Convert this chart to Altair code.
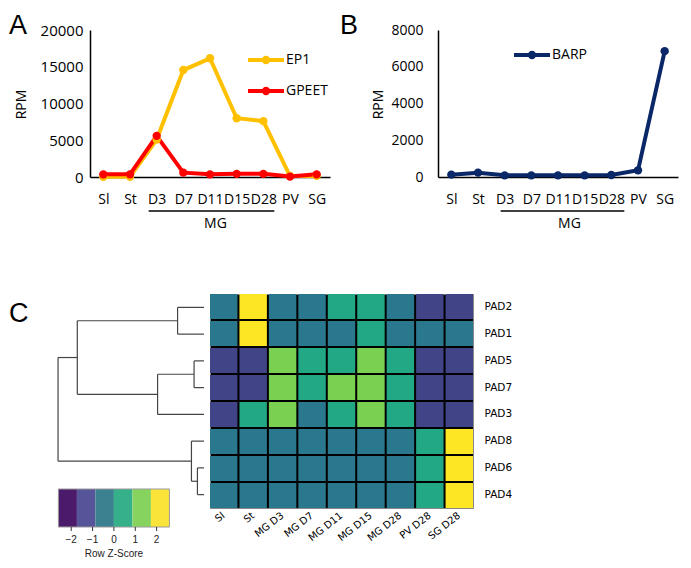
import altair as alt
import pandas as pd

# ---------------- data ----------------
stages = ["Sl", "St", "D3", "D7", "D11", "D15", "D28", "PV", "SG"]
mg_span = ["D3", "D28"]
ep1 = [30, 30, 5100, 14550, 16150, 8000, 7600, 130, 150]
gpeet = [360, 360, 5600, 590, 360, 430, 430, 60, 360]
barp = [127, 236, 90, 90, 90, 90, 110, 363, 6850]
a_ticks = [0, 5000, 10000, 15000, 20000]
b_ticks = [0, 2000, 4000, 6000, 8000]

heat_cols = ["Sl", "St", "MG D3", "MG D7", "MG D11", "MG D15", "MG D28", "PV D28", "SG D28"]
heat_rows = ["PAD2", "PAD1", "PAD5", "PAD7", "PAD3", "PAD8", "PAD6", "PAD4"]
z_pad2 = [-0.4, 2.2, -0.4, -0.4, 0.4, 0.4, -0.4, -1.3, -1.3]
z_pad1 = [-0.4, 2.2, -0.4, -0.4, -0.4, 0.4, -0.4, -0.4, -0.4]
z_pad5 = [-1.3, -1.3, 1.3, 0.4, 0.4, 1.3, 0.4, -1.3, -1.3]
z_pad7 = [-1.3, -1.3, 1.3, 0.4, 1.3, 1.3, 0.4, -1.3, -1.3]
z_pad3 = [-1.3, 0.4, 1.3, -0.4, 0.4, 1.3, 0.4, -1.3, -1.3]
z_pad8 = [-0.4, -0.4, -0.4, -0.4, -0.4, -0.4, -0.4, 0.4, 2.2]
z_pad6 = [-0.4, -0.4, -0.4, -0.4, -0.4, -0.4, -0.4, 0.4, 2.2]
z_pad4 = [-0.4, -0.4, -0.4, -0.4, -0.4, -0.4, -0.4, 0.4, 2.2]
z_rows = [z_pad2, z_pad1, z_pad5, z_pad7, z_pad3, z_pad8, z_pad6, z_pad4]

z_breaks = [-2.6, -1.733, -0.867, 0.0, 0.867, 1.733, 2.6]
z_ticks = [-2, -1, 0, 1, 2]
z_title = "Row Z-Score"
viridis6 = ["#440154", "#414487", "#2A788E", "#22A884", "#7AD151", "#FDE725"]
cbar_colors = ["#4b1a6b", "#57559a", "#3c8190", "#36af8b", "#86d45f", "#fbe43a"]

# dendrogram linkage (merge a + merge b at height h -> node m1..m7)
merge_a = ["PAD2", "PAD5", "m2", "m1", "PAD6", "PAD8", "m4"]
merge_b = ["PAD1", "PAD7", "PAD3", "m3", "PAD4", "m5", "m6"]
merge_h = [1.81, 0.68, 3.18, 8.68, 0.45, 0.86, 10.0]

# ---------------- derived tables ----------------
FONT = "Open Sans"
NOFRAME = alt.ViewBackground(stroke="transparent")
dfA = pd.DataFrame({"stage": stages * 2, "rpm": ep1 + gpeet,
                    "gene": ["EP1"] * len(stages) + ["GPEET"] * len(stages)})
dfB = pd.DataFrame({"stage": stages, "rpm": barp, "gene": ["BARP"] * len(stages)})
df_span = pd.DataFrame({"a": [mg_span[0]], "b": [mg_span[1]]})

heat_records = []
for r, zs in zip(heat_rows, z_rows):
    for c, z in zip(heat_cols, zs):
        heat_records.append({"row": r, "col": c, "z": z})
dfH = pd.DataFrame(heat_records)

pos = {leaf: float(i) for i, leaf in enumerate(heat_rows)}
hgt = {leaf: 0.0 for leaf in heat_rows}
segs = []
for k, (a, b, h) in enumerate(zip(merge_a, merge_b, merge_h)):
    segs.append({"x": h, "x2": h, "y": pos[a], "y2": pos[b]})
    for ch in (a, b):
        segs.append({"x": hgt[ch], "x2": h, "y": pos[ch], "y2": pos[ch]})
    pos[f"m{k+1}"] = (pos[a] + pos[b]) / 2
    hgt[f"m{k+1}"] = h
dfD = pd.DataFrame(segs)

bins = [f"b{i}" for i in range(len(z_breaks) - 1)]
dfCB = pd.DataFrame({"lo": z_breaks[:-1], "hi": z_breaks[1:], "bin": bins})
dfCBframe = pd.DataFrame({"lo": [z_breaks[0]], "hi": [z_breaks[-1]]})
dfCBticks = pd.DataFrame({"z": z_ticks, "lab": [str(v).replace("-", "\u2212") for v in z_ticks]})
dfCBtitle = pd.DataFrame({"z": [0.0], "lab": [z_title]})

SYM = "M-1,0L1,0M-0.12,0A0.12,0.12,0,1,0,0.12,0A0.12,0.12,0,1,0,-0.12,0Z"


def legend(x, y):
    return alt.Legend(orient="none", legendX=x, legendY=y, title=None,
                      symbolType=SYM, symbolSize=1296, symbolStrokeWidth=4,
                      labelFont=FONT, labelFontSize=14, labelColor="black",
                      labelOffset=0, rowPadding=-2, padding=0)


def letter(ch, dx, dy):
    return alt.Chart(pd.DataFrame({"t": [ch]})).mark_text(
        align="left", baseline="top", fontSize=27, font="Liberation Sans", color="black"
    ).encode(text="t:N", x=alt.value(dx), y=alt.value(dy))


def line_panel(df, colors, domain, y_max, y_ticks, leg_xy, title_x, rpm_x,
               label_pad, label_size, rule_off, letter_ch, letter_dx, width):
    xscale = alt.Scale(type="point", padding=0.5, domain=stages)
    xaxis = alt.Axis(title="MG", titleX=title_x, titleY=46, titleBaseline="middle",
                     titleFontSize=14, titleFontWeight="normal", titleFont=FONT,
                     labelAngle=0, labelFontSize=14, labelFont=FONT, labelPadding=15,
                     labelOverlap=False, ticks=False, grid=False,
                     domainColor="black", domainWidth=1.5)
    yaxis = alt.Axis(values=y_ticks, format="d", title="RPM", titleX=rpm_x, titleY=74,
                     titleBaseline="middle", titleAlign="center",
                     titleFontSize=14, titleFontWeight="normal", titleFont=FONT,
                     labelFontSize=label_size, labelFont=FONT, labelPadding=label_pad,
                     ticks=False, grid=False, domainColor="black", domainWidth=1.5)
    cscale = alt.Scale(domain=domain, range=colors)
    x = alt.X("stage:N", scale=xscale, axis=xaxis)
    y = alt.Y("rpm:Q", scale=alt.Scale(domain=[0, y_max], nice=False), axis=yaxis)
    lines = alt.Chart(df).mark_line(strokeWidth=4).encode(
        x=x, y=y, color=alt.Color("gene:N", scale=cscale, legend=legend(*leg_xy)))
    pts = alt.Chart(df).mark_circle(size=70, opacity=1).encode(
        x=x, y=y, color=alt.Color("gene:N", scale=cscale, legend=legend(*leg_xy)))
    rule = alt.Chart(df_span).mark_rule(
        color="black", strokeWidth=1.5, xOffset=rule_off[0], x2Offset=rule_off[1]
    ).encode(x=alt.X("a:N", scale=xscale), x2="b:N", y=alt.value(181))
    return alt.layer(lines, pts, rule, letter(letter_ch, letter_dx, -17)).properties(
        width=width, height=147, view=NOFRAME)


chartA = line_panel(dfA, ["#FFC000", "#FF0000"], ["EP1", "GPEET"], 20000, a_ticks,
                    (156, 10), 125, -69, 7, 15, (-8, 11), "A", -81, 240)
chartB = line_panel(dfB, ["#0a2767"], ["BARP"], 8000, b_ticks,
                    (74, 5), 131, -60, 15, 14, (-4, 13), "B", -98, 240)

# ---------------- panel C ----------------
# The plot area of this view begins a little right of the dendrogram root so that
# it lines up with panel A above; the linear scales simply extend past the left edge.
C_W = 114
dendro = alt.Chart(dfD).mark_rule(color="#444", strokeWidth=1.2).encode(
    x=alt.X("x:Q", scale=alt.Scale(domain=[0, 7.81], reverse=True, nice=False, zero=False),
            axis=None),
    x2="x2:Q",
    y=alt.Y("y:Q", scale=alt.Scale(domain=[-0.5, 8.21], reverse=True, nice=False, zero=False),
            axis=None),
    y2="y2:Q")

cb_scale = alt.Scale(domain=[-1.12, 4.22], nice=False, zero=False)
cbar = alt.Chart(dfCB).mark_rect().encode(
    x=alt.X("lo:Q", scale=cb_scale, axis=None),
    x2="hi:Q",
    y=alt.value(195), y2=alt.value(233),
    color=alt.Color("bin:N", scale=alt.Scale(domain=bins, range=cbar_colors), legend=None))
cframe = alt.Chart(dfCBframe).mark_rect(fillOpacity=0, stroke="#999", strokeWidth=1).encode(
    x=alt.X("lo:Q", scale=cb_scale, axis=None), x2="hi:Q",
    y=alt.value(195), y2=alt.value(233))
cticks = alt.Chart(dfCBticks).mark_rule(color="#333", strokeWidth=1).encode(
    x=alt.X("z:Q", scale=cb_scale, axis=None), y=alt.value(233), y2=alt.value(237))
clabels = alt.Chart(dfCBticks).mark_text(
    font="Liberation Sans", fontSize=10, color="#222", baseline="top"
).encode(x=alt.X("z:Q", scale=cb_scale, axis=None), y=alt.value(241), text="lab:N")
ctitle = alt.Chart(dfCBtitle).mark_text(
    font="Liberation Sans", fontSize=10, color="#222", baseline="middle"
).encode(x=alt.X("z:Q", scale=cb_scale, axis=None), y=alt.value(260), text="lab:N")

leftC = alt.layer(dendro, cbar, cframe, cticks, clabels, ctitle,
                  letter("C", -81, 7)).resolve_scale(
    x="independent").properties(width=C_W, height=233, view=NOFRAME)

heat = alt.Chart(dfH).mark_rect().encode(
    x=alt.X("col:N", scale=alt.Scale(domain=heat_cols, paddingInner=0.068, paddingOuter=0),
            axis=alt.Axis(title=None, orient="bottom", labelAngle=322, labelAlign="right",
                          labelBaseline="middle", labelPadding=6, labelFont="DejaVu Sans",
                          labelFontSize=10, labelColor="black", domain=False, ticks=False,
                          labelOverlap=False, grid=False)),
    y=alt.Y("row:N", scale=alt.Scale(domain=heat_rows, paddingInner=0.073, paddingOuter=0),
            axis=alt.Axis(title=None, orient="right", labelPadding=11, labelFont="DejaVu Sans",
                          labelFontSize=10.5, labelColor="black", domain=False, ticks=False,
                          grid=False)),
    color=alt.Color("z:Q", scale=alt.Scale(type="threshold", domain=z_breaks[1:-1], range=viridis6),
                    legend=None)
).properties(width=263, height=214,
             view=alt.ViewBackground(fill="black", stroke="#888", strokeWidth=1))

top = alt.hconcat(chartA, chartB, spacing=8).resolve_scale(color="independent")
bottom = alt.hconcat(leftC, heat, spacing=3).resolve_scale(color="independent")
chart = alt.vconcat(top, bottom, spacing=62).resolve_scale(
    color="independent"
).properties(
    padding={"top": 3, "left": 0, "right": 0, "bottom": 0}
).configure_view(stroke="transparent").configure(font=FONT)

chart.save("out.html", embed_options={"renderer": "svg", "actions": False})
